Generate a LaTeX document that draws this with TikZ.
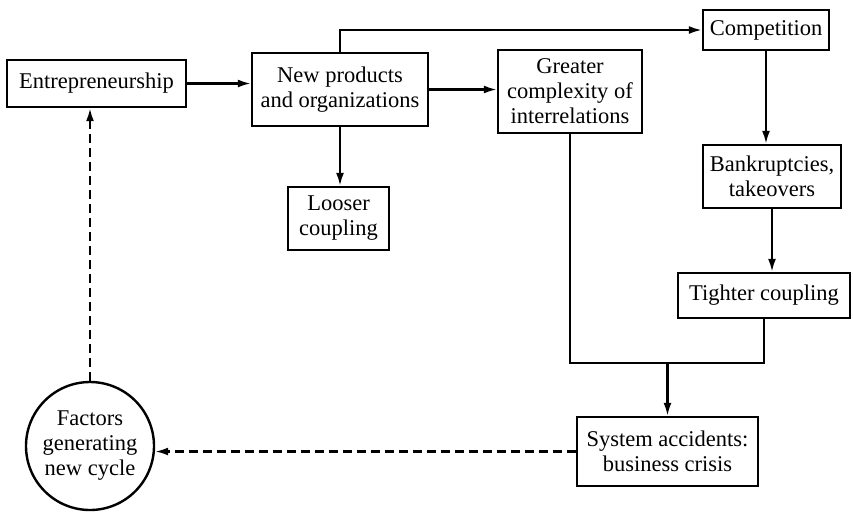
\documentclass[tikz,border=0pt]{standalone}
\usepackage{fontspec}
\setmainfont{Liberation Serif}
\usetikzlibrary{arrows.meta}
\begin{document}
\begin{tikzpicture}[x=1pt,y=-1pt,
  every node/.style={font=\fontsize{22.5}{25}\selectfont},
  box/.style={draw,line width=2.4pt,inner sep=0pt,align=center},
  conn/.style={line width=2.2pt,-{Latex[length=13pt,width=8pt]}},
  plain/.style={line width=2.2pt},
  dconn/.style={line width=2.2pt,dash pattern=on 9pt off 5pt,-{Latex[length=13pt,width=8pt]}}]
\useasboundingbox (0,0) rectangle (853,512);
\node[box,minimum width=179pt,minimum height=47pt] (ent) at (96.5,83.5) {Entrepreneurship};
\node[box,minimum width=176pt,minimum height=73pt] (newp) at (340,89.5) {New products\\and organizations};
\node[box,minimum width=101pt,minimum height=63pt] (loose) at (338.5,218.5) {Looser\\coupling};
\node[box,minimum width=126pt,minimum height=40pt] (comp) at (766,30) {Competition};
\node[box,minimum width=144pt,minimum height=83pt] (great) at (570,91.5) {Greater\\complexity of\\interrelations};
\node[box,minimum width=138pt,minimum height=63pt] (bank) at (772,176.5) {Bankruptcies,\\takeovers};
\node[box,minimum width=172pt,minimum height=45pt] (tight) at (764,295.5) {Tighter coupling};
\node[box,minimum width=181pt,minimum height=69pt] (sys) at (667.5,451.5) {System accidents:\\business crisis};
\node[box,circle,minimum size=128pt] (circ) at (90,446) {Factors\\generating\\new cycle};
\coordinate (m) at (667.5,363);
\draw[conn] (ent.east) -- (ent.east -| newp.west);
\draw[conn] (newp.east) -- (newp.east -| great.west);
\draw[conn] (newp.south) -- (newp.south |- loose.north);
\draw[conn] (newp.north) |- (comp.west);
\draw[conn] (comp.south) -- (comp.south |- bank.north);
\draw[conn] (bank.south) -- (bank.south |- tight.north);
\draw[plain] (great.south) |- (tight.south |- m) -- (tight.south);
\draw[conn] (m) -- (sys.north);
\draw[dconn] (sys.west) -- (sys.west -| circ.east);
\draw[dconn] (circ.north) -- (circ.north |- ent.south);
\end{tikzpicture}
\end{document}
